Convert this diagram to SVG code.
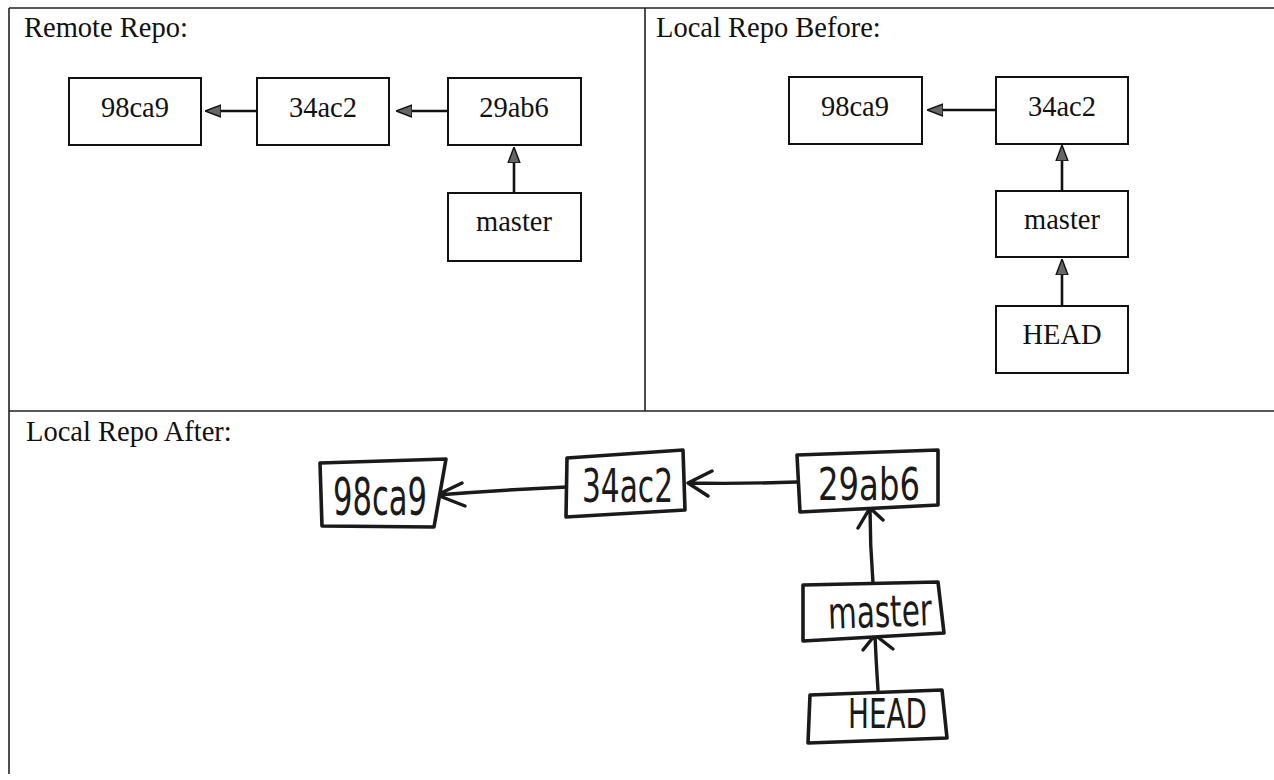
<svg xmlns="http://www.w3.org/2000/svg" width="1274" height="780" viewBox="0 0 1274 780">
<style>
.frame{fill:none;stroke:#222;stroke-width:1.6}
.title{font-family:"Liberation Serif","Times New Roman",serif;font-size:28.5px;fill:#111}
.box{fill:#fff;stroke:#111;stroke-width:2}
.lbl{font-family:"Liberation Serif","Times New Roman",serif;font-size:28.5px;fill:#111;text-anchor:middle}
.conn{fill:none;stroke:#111;stroke-width:2.6}
.sbox{fill:#fff;stroke:#1a1a1a;stroke-width:3.6;stroke-linejoin:round;stroke-linecap:round}
.hand{font-family:"DejaVu Sans",sans-serif;fill:#1a1a1a}
.sconn{fill:none;stroke:#1a1a1a;stroke-width:3.4;stroke-linecap:round;stroke-linejoin:round}
</style>
<defs>
<marker id="tri" viewBox="0 0 16 14" refX="0" refY="7" markerWidth="16" markerHeight="14" orient="auto" markerUnits="userSpaceOnUse">
<path d="M0,1 L16,7 L0,13 Z" fill="#666" stroke="#111" stroke-width="1.4" stroke-linejoin="miter"/>
</marker>
</defs>
<rect width="1274" height="780" fill="#fff"/>
<g id="frame">
<path class="frame" d="M9,8 L1274,8 M9,8 L9,774 M645,8 L645,411 M9,411 L1274,411"/>
</g>
<text class="title" x="24" y="37">Remote Repo:</text>
<text class="title" x="656" y="37">Local Repo Before:</text>
<text class="title" x="26" y="441">Local Repo After:</text>

<g id="connectors">
<line class="conn" x1="257" y1="111" x2="221" y2="111" marker-end="url(#tri)"/>
<line class="conn" x1="448" y1="111" x2="412" y2="111" marker-end="url(#tri)"/>
<line class="conn" x1="514" y1="193" x2="514" y2="163" marker-end="url(#tri)"/>
<line class="conn" x1="996" y1="110" x2="943" y2="110" marker-end="url(#tri)"/>
<line class="conn" x1="1062" y1="191" x2="1062" y2="161" marker-end="url(#tri)"/>
<line class="conn" x1="1062" y1="306" x2="1062" y2="275" marker-end="url(#tri)"/>
<path class="sconn" d="M567,487 Q500,490 437,495 M462,483 L437,495 L465,506"/>
<path class="sconn" d="M797,482 Q740,484 688,483 M712,471 L688,483 L708,496"/>
<path class="sconn" d="M873,583 Q870,545 870,508 M858,528 L870,508 L883,520"/>
<path class="sconn" d="M878,690 Q876,660 875,635 M863,650 L875,635 L893,649"/>
</g>

<g id="r-98ca9"><rect class="box" x="69" y="78" width="132" height="67"/><text class="lbl" x="135" y="117">98ca9</text></g>
<g id="r-34ac2"><rect class="box" x="257" y="78" width="132" height="67"/><text class="lbl" x="323" y="117">34ac2</text></g>
<g id="r-29ab6"><rect class="box" x="448" y="78" width="133" height="67"/><text class="lbl" x="514" y="117">29ab6</text></g>
<g id="r-master"><rect class="box" x="448" y="193" width="133" height="68"/><text class="lbl" x="514" y="231">master</text></g>

<g id="b-98ca9"><rect class="box" x="789" y="77" width="133" height="67"/><text class="lbl" x="855" y="116">98ca9</text></g>
<g id="b-34ac2"><rect class="box" x="996" y="77" width="132" height="67"/><text class="lbl" x="1062" y="116">34ac2</text></g>
<g id="b-master"><rect class="box" x="996" y="191" width="132" height="66"/><text class="lbl" x="1062" y="229">master</text></g>
<g id="b-HEAD"><rect class="box" x="996" y="306" width="132" height="67"/><text class="lbl" x="1062" y="344">HEAD</text></g>

<g id="a-98ca9"><path class="sbox" d="M320,463 L446,459 L434,527 L322,526 Z"/><text class="hand" x="333" y="515" font-size="51" textLength="94" lengthAdjust="spacingAndGlyphs">98ca9</text></g>
<g id="a-34ac2"><path class="sbox" d="M567,458 L683,450 L685,510 L566,517 Z"/><text class="hand" x="582" y="502" font-size="46" textLength="91" lengthAdjust="spacingAndGlyphs">34ac2</text></g>
<g id="a-29ab6"><path class="sbox" d="M797,455 L938,450 L938,505 L800,512 Z"/><text class="hand" x="818" y="500" font-size="45" textLength="102" lengthAdjust="spacingAndGlyphs">29ab6</text></g>
<g id="a-master"><path class="sbox" d="M803,585 L938,582 L944,633 L803,641 Z"/><text class="hand" x="828" y="627" font-size="44" textLength="104" lengthAdjust="spacingAndGlyphs" transform="rotate(-2 880 615)">master</text></g>
<g id="a-HEAD"><path class="sbox" d="M810,695 L942,690 L947,738 L808,743 Z"/><text class="hand" x="848" y="728" font-size="41" textLength="79" lengthAdjust="spacingAndGlyphs">HEAD</text></g>
</svg>
